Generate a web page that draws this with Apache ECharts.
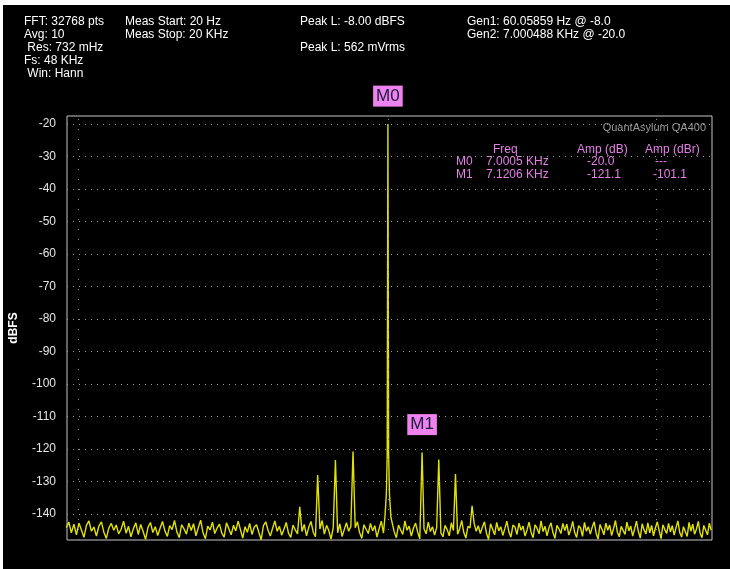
<!DOCTYPE html>
<html><head><meta charset="utf-8">
<script src="https://cdn.jsdelivr.net/npm/echarts@6/dist/echarts.min.js"></script>
<style>html,body{margin:0;padding:0;background:#fff}#c{width:730px;height:569px}</style>
</head><body><div id="c"></div>
<script>
// ---- data ----
const noiseStartHz = 5965;
const noiseStepHz = 7.5;
const noiseDb = [
-144.2,-142.5,-145.8,-143.1,-146.4,-142.8,-144.9,-147.2,-143.5,-142.1,-145.3,-144.0,-146.8,-143.7,-142.4,-145.6,-147.5,-144.3,-142.9,-145.0,
-143.4,-146.1,-144.7,-142.2,-145.9,-143.8,-147.0,-144.5,-142.7,-146.3,-143.2,-145.4,-147.8,-144.1,-142.6,-145.7,-143.9,-146.6,-144.4,-142.3,
-145.2,-146.9,-143.6,-144.8,-142.0,-145.5,-147.3,-143.3,-144.6,-146.2,-142.8,-145.1,-143.0,-146.7,-144.2,-141.9,-145.8,-147.6,-143.7,-144.9,
-142.5,-146.0,-144.3,-143.1,-145.9,-147.1,-142.7,-144.5,-146.4,-143.5,-145.2,-142.2,-144.8,-147.4,-143.9,-145.6,-142.9,-146.3,-144.0,-143.3,
-145.7,-147.9,-143.6,-142.4,-145.0,-146.8,-144.4,-142.1,-145.3,-143.8,-146.5,-144.7,-142.6,-145.9,-147.2,-143.4,-144.9,-146.1,-142.8,-145.4,
-143.2,-146.7,-144.1,-142.3,-145.6,-147.0,-143.7,-144.6,-142.0,-146.2,-143.5,-145.1,-147.7,-144.3,-142.5,-145.8,-143.0,-146.9,-144.8,-142.7,
-145.3,-143.9,-146.4,-144.2,-142.4,-145.7,-147.5,-143.3,-144.7,-146.0,-142.9,-145.2,-143.6,-147.1,-144.5,-142.2,-145.9,-143.8,-146.6,-144.0,
-142.6,-145.5,-147.3,-143.4,-144.9,-146.3,-142.1,-145.0,-143.7,-146.8,-144.4,-142.8,-145.6,-147.6,-143.1,-144.6,-146.1,-142.5,-145.4,-143.9,
-146.5,-144.2,-142.3,-145.8,-147.0,-143.5,-144.8,-146.7,-142.7,-145.1,-143.2,-146.2,-144.6,-142.0,-145.7,-147.4,-143.8,-144.3,-146.9,-142.9,
-145.3,-143.6,-146.0,-144.1,-142.4,-145.9,-147.8,-143.0,-144.7,-146.4,-142.6,-145.2,-143.9,-146.6,-144.5,-142.2,-145.5,-147.1,-143.4,-144.0,
-146.3,-142.8,-145.0,-143.7,-146.8,-144.9,-142.5,-145.6,-147.3,-143.3,-144.4,-146.1,-142.1,-145.4,-143.8,-146.7,-144.2,-142.7,-145.8,-147.5,
-143.5,-144.6,-146.0,-142.9,-145.1,-143.1,-146.5,-144.8,-142.3,-145.7,-147.2,-143.6,-144.3,-146.9,-142.6,-145.3,-143.9,-146.2,-144.0,-142.4,
-145.9,-147.7,-143.2,-144.7,-146.4,-142.8,-145.0,-143.4,-146.6,-144.5,-142.0,-145.6,-147.0,-143.8,-144.1,-146.3,-142.5,-145.2,-143.7,-146.8,
-144.6,-142.2,-145.4,-147.4,-143.0,-144.9,-146.1,-142.7,-145.8,-143.5,-146.7,-144.3,-142.4,-145.1,-147.6,-143.3,-144.8,-146.0,-142.9,-145.5,
-143.6,-146.5,-144.2,-142.1,-145.7,-147.1,-143.9,-144.4,-146.9,-142.6,-145.3,-143.1,-146.2,-144.7,-142.3,-145.9,-147.3,-143.5,-144.0,-146.4,-142.8,-145.0
];
const spurHz = [6700, 6760, 6820, 6880, 7120.6, 7180, 7240, 7300];
const spurDb = [-137.8, -128.0, -123.4, -120.8, -121.1, -123.2, -127.7, -137.5];
const carrierHz = [6990, 6995, 6998, 7000.5, 7003, 7006, 7011];
const carrierDb = [-141.0, -134.0, -122.0, -20.0, -122.0, -134.0, -141.0];
const yTickValues = [-20, -30, -40, -50, -60, -70, -80, -90, -100, -110, -120, -130, -140];
const xGridHz = [6000, 7000, 8000];
const markerNames = ['M0', 'M1'];
const markerHz = [7000.5, 7120.6];
const markerDb = [-20.0, -121.1];
const headerCol1 = ['FFT: 32768 pts', 'Avg: 10', ' Res: 732 mHz', 'Fs: 48 KHz', ' Win: Hann'];
const headerCol2 = ['Meas Start: 20 Hz', 'Meas Stop: 20 KHz'];
const headerCol3 = ['Peak L: -8.00 dBFS', '', 'Peak L: 562 mVrms'];
const headerCol4 = ['Gen1: 60.05859 Hz @ -8.0', 'Gen2: 7.000488 KHz @ -20.0'];
const tableHead = ['Freq', 'Amp (dB)', 'Amp (dBr)'];
const tableRow0 = ['M0', '7.0005 KHz', '-20.0', '---'];
const tableRow1 = ['M1', '7.1206 KHz', '-121.1', '-101.1'];

// ---- build series data ----
const pts = [];
noiseDb.forEach((v, i) => {
  const f = noiseStartHz + i * noiseStepHz;
  if (f > carrierHz[0] - 1 && f < carrierHz[carrierHz.length - 1] + 1) return;
  if (spurHz.some(s => Math.abs(s - f) < 2)) return;
  pts.push([f, v]);
});
spurHz.forEach((f, i) => pts.push([f, spurDb[i]]));
carrierHz.forEach((f, i) => pts.push([f, carrierDb[i]]));
pts.sort((a, b) => a[0] - b[0]);

const FONT = '"Liberation Sans", Arial, sans-serif';
const gfx = [
  {type: 'rect', shape: {x: 0, y: 0, width: 730, height: 5}, style: {fill: '#fff'}, silent: true},
  {type: 'rect', shape: {x: 0, y: 0, width: 3, height: 569}, style: {fill: '#fff'}, silent: true}
];
function txt(t, x, y, fill, size, align) {
  gfx.push({type: 'text', x: x, y: y, silent: true,
    style: {text: t, fill: fill, font: (size || 12) + 'px ' + FONT, textAlign: align || 'left', textVerticalAlign: 'middle'}});
}
const rowY = [22, 35, 48, 61, 74];
headerCol1.forEach((t, i) => txt(t, 24, rowY[i], '#fff'));
headerCol2.forEach((t, i) => txt(t, 125, rowY[i], '#fff'));
headerCol3.forEach((t, i) => txt(t, 300, rowY[i], '#fff'));
headerCol4.forEach((t, i) => txt(t, 467, rowY[i], '#fff'));
txt('QuantAsylum QA400', 706, 128, '#9a9a9a', 11, 'right');
const VIO = '#e77fe7';
txt(tableHead[0], 493, 150, VIO);
txt(tableHead[1], 577, 150, VIO);
txt(tableHead[2], 645, 150, VIO);
[[tableRow0, 162], [tableRow1, 175]].forEach(([r, y]) => {
  txt(r[0], 456, y, VIO);
  txt(r[1], 486, y, VIO);
  txt(r[2], 587, y, VIO);
  txt(r[3], r[3] === '---' ? 655 : 653, y, VIO);
});

const chart = echarts.init(document.getElementById('c'), null, {renderer: 'canvas'});
chart.setOption({
  backgroundColor: '#000',
  animation: false,
  grid: {left: 67, top: 116, width: 645, height: 424, show: true, borderColor: '#c4c4c4', borderWidth: 1, backgroundColor: 'transparent'},
  xAxis: {type: 'log', logBase: 10, min: 5967, max: 8226,
    axisLabel: {show: false}, axisTick: {show: false}, axisLine: {show: false}, splitLine: {show: false}, minorSplitLine: {show: false}},
  yAxis: {type: 'value', min: -148, max: -17.5,
    name: 'dBFS', nameLocation: 'middle', nameGap: 47, nameRotate: 90,
    nameTextStyle: {color: '#fff', fontWeight: 'bold', fontSize: 12, fontFamily: FONT},
    axisLabel: {customValues: yTickValues, color: '#e6e6e6', fontSize: 12, fontFamily: FONT, margin: 11},
    axisTick: {show: false}, axisLine: {show: false}, splitLine: {show: false}},
  graphic: {elements: gfx},
  series: [
    {type: 'line', data: [], silent: true, z: 1,
      markLine: {silent: true, symbol: 'none', label: {show: false}, animation: false,
        data: yTickValues.map(v => ({yAxis: v, lineStyle: {type: [1, 5], color: '#9a9a9a', width: 1}}))
          .concat(xGridHz.map(v => ({xAxis: v, lineStyle: {type: [1, 9], color: '#8a8a8a', width: 1}})))}},
    {type: 'line', data: pts, showSymbol: false, sampling: 'none', z: 3,
      lineStyle: {color: '#e2e200', width: 1.4},
      markPoint: {symbol: 'rect', symbolSize: 0, animation: false,
        label: {show: true, position: 'inside', offset: [0, -28], formatter: '{b}',
          backgroundColor: '#ee82ee', color: '#1c1c3c', fontSize: 17, fontFamily: FONT, padding: [3, 3, 1, 3]},
        data: markerNames.map((n, i) => ({name: n, coord: [markerHz[i], markerDb[i]]}))}}
  ]
});
</script></body></html>
